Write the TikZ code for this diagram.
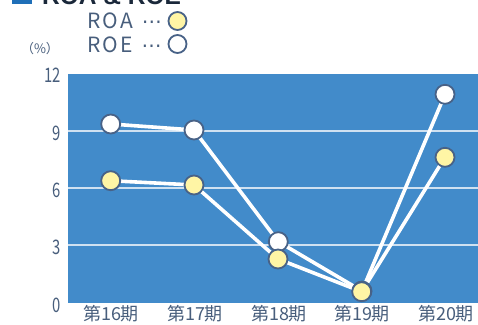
\documentclass[tikz,border=0pt]{standalone}
\usepackage{fontspec}
\setmainfont{Noto Sans CJK JP}
\newfontfamily\jpfont{Noto Sans CJK JP}
\newfontfamily\numfont[FakeStretch=0.74]{Noto Sans CJK JP}
\newfontfamily\legfont[LetterSpace=10]{Noto Sans CJK JP}
\newfontfamily\dotfont[LetterSpace=20]{DejaVu Sans}
\newfontfamily\titlefont{Liberation Sans}
\definecolor{plotblue}{RGB}{66,139,202}
\definecolor{txtc}{RGB}{72,94,124}
\definecolor{mark}{RGB}{72,98,135}
\definecolor{yel}{RGB}{255,245,165}
\definecolor{titleblue}{RGB}{31,111,184}
\definecolor{titletxt}{RGB}{26,40,58}
\pgfdeclarelayer{back}
\pgfdeclarelayer{bg}
\pgfsetlayers{back,bg,main}
\tikzset{
  x=1pt,y=-1pt,
  roe/.style={circle,draw=mark,line width=1.8pt,fill=white,minimum size=19pt,inner sep=0pt},
  roa/.style={roe,fill=yel},
  dataline/.style={white,line width=3.6pt},
  gridl/.style={white,opacity=0.75,line width=1.2pt},
  ylab/.style={anchor=east,text=txtc,font=\numfont\fontsize{20}{20}\selectfont,inner sep=0pt},
  xlab/.style={anchor=north,text=txtc,font=\jpfont\fontsize{18}{18}\selectfont,inner sep=0pt},
  leg/.style={anchor=west,text=txtc,font=\legfont\fontsize{21}{21}\selectfont,inner sep=0pt},
}
\begin{document}
\begin{tikzpicture}
\useasboundingbox (0,0) rectangle (478,324);
\clip (0,0) rectangle (478,324);
% title (cut off at top)
\fill[titleblue] (12,-20) rectangle (31.5,4);
\node[anchor=base west,inner sep=0pt,text=titletxt,font=\titlefont\bfseries\fontsize{24.5}{25}\selectfont] (title) at (42,4.2) {ROA \& ROE};
% legend
\node[leg] (legroa) at (87,20.5) {ROA\hspace{9pt}{\dotfont\fontsize{20}{20}\selectfont ⋯}};
\node[roa,minimum size=18pt] (legroac) at (177.5,21) {};
\node[leg] (legroe) at (87,44.5) {ROE\hspace{9pt}{\dotfont\fontsize{20}{20}\selectfont ⋯}};
\node[roe,minimum size=18pt] (legroec) at (177.5,44) {};
\node[anchor=center,text=txtc,font=\jpfont\fontsize{13}{14}\selectfont,inner sep=0pt] (unit) at (40,49) {（\%）};
% plot area
\begin{pgfonlayer}{back}
\fill[plotblue] (68,74) rectangle (478,303);
\draw[gridl] (68,131) -- (478,131);
\draw[gridl] (68,188) -- (478,188);
\draw[gridl] (68,245) -- (478,245);
\end{pgfonlayer}
% y labels
\node[ylab] (y12) at (61,75.5) {12};
\node[ylab] (y9) at (61,133) {9};
\node[ylab] (y6) at (61,190) {6};
\node[ylab] (y3) at (61,247) {3};
\node[ylab] (y0) at (61,305) {0};
% x labels
\node[xlab] (x16) at (111,305) {第16期};
\node[xlab] (x17) at (195,305) {第17期};
\node[xlab] (x18) at (279,305) {第18期};
\node[xlab] (x19) at (362,305) {第19期};
\node[xlab] (x20) at (446,305) {第20期};
% ROE markers
\node[roe] (e16) at (110.7,124) {};
\node[roe] (e17) at (194,130) {};
\node[roe] (e18) at (278.3,241.7) {};
\node[roe] (e19) at (362,291) {};
\node[roe] (e20) at (445,94.3) {};
% ROA markers
\node[roa] (a16) at (110.7,180.7) {};
\node[roa] (a17) at (194,185) {};
\node[roa] (a18) at (278,259) {};
\node[roa] (a19) at (361.7,291.7) {};
\node[roa] (a20) at (445,157.3) {};
% lines
\begin{pgfonlayer}{bg}
\draw[dataline] (e16.center) -- (e17.center) -- (e18.center) -- (e19.center) -- (e20.center);
\draw[dataline] (a16.center) -- (a17.center) -- (a18.center) -- (a19.center) -- (a20.center);
\end{pgfonlayer}
\end{tikzpicture}
\end{document}
